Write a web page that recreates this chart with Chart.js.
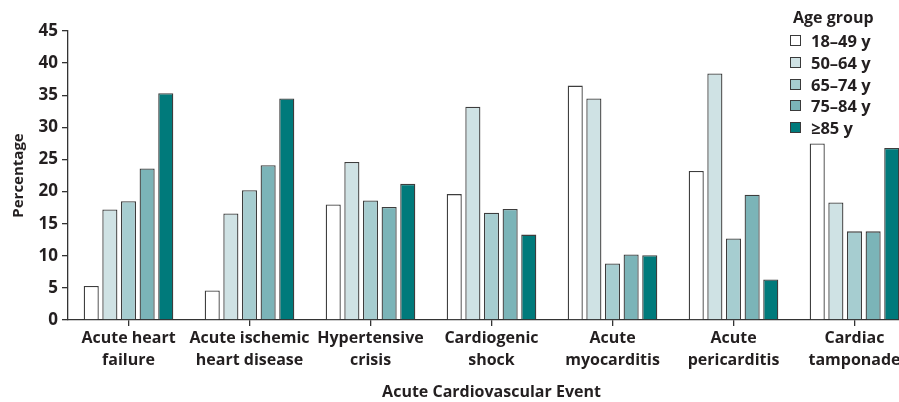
<!DOCTYPE html>
<html>
<head>
<meta charset="utf-8">
<script src="https://cdn.jsdelivr.net/npm/chart.js@4/dist/chart.umd.min.js"></script>
<style>
  html, body { margin: 0; padding: 0; background: #fff; overflow: hidden; }
  #wrap { position: relative; width: 899px; height: 402px; overflow: hidden; }
  #chart { position: absolute; left: 0; top: 0; }
  #legend { position: absolute; left: 790px; top: 5px; font-family: "Open Sans", sans-serif; font-weight: bold; color: #231f20; }
  #legend .title { font-size: 16px; margin-left: 3px; line-height: 25px; }
  #legend .item { font-size: 16.5px; line-height: 21.8px; white-space: nowrap; }
  #legend .box { display: inline-block; width: 9px; height: 9px; border: 1.3px solid #3a3a3a; margin-right: 10px; vertical-align: 1px; }
</style>
</head>
<body>
<div id="wrap">
  <canvas id="chart" width="915" height="402"></canvas>
  <div id="legend"></div>
</div>
<script>
const categories = [
    ['Acute heart', 'failure'],
    ['Acute ischemic', 'heart disease'],
    ['Hypertensive', 'crisis'],
    ['Cardiogenic', 'shock'],
    ['Acute', 'myocarditis'],
    ['Acute', 'pericarditis'],
    ['Cardiac', 'tamponade']
];
const ageGroups = ['18\u201349 y', '50\u201364 y', '65\u201374 y', '75\u201384 y', '\u226585 y'];
const colors = ['#ffffff', '#cfe2e4', '#a6cdd0', '#7bb4b8', '#007a7b'];

const age18to49 = [5.3, 4.6, 18.0, 19.6, 36.5, 23.2, 27.5];
const age50to64 = [17.2, 16.6, 24.6, 33.2, 34.5, 38.4, 18.3];
const age65to74 = [18.5, 20.2, 18.6, 16.7, 8.8, 12.7, 13.8];
const age75to84 = [23.6, 24.1, 17.6, 17.3, 10.2, 19.5, 13.8];
const age85plus = [35.3, 34.5, 21.2, 13.3, 10.1, 6.3, 26.8];
const yTicks = [0, 5, 10, 15, 20, 25, 30, 35, 40, 45];

const seriesValues = [age18to49, age50to64, age65to74, age75to84, age85plus];
const ink = '#231f20';
const fontFamily = '"Open Sans", sans-serif';

const datasets = ageGroups.map((label, i) => ({
    label: label,
    data: seriesValues[i],
    backgroundColor: colors[i],
    borderColor: '#3d3d3d',
    borderWidth: 1.3,
    categoryPercentage: 0.77,
    barPercentage: 0.81
}));

new Chart(document.getElementById('chart').getContext('2d'), {
    type: 'bar',
    data: { labels: categories, datasets: datasets },
    options: {
        responsive: false,
        animation: false,
        devicePixelRatio: 1,
        layout: { padding: { top: 31, right: 0, bottom: 0, left: 0 } },
        plugins: { legend: { display: false }, tooltip: { enabled: false } },
        scales: {
            x: {
                grid: { display: true, drawOnChartArea: false, offset: false, tickLength: 6, color: '#333', lineWidth: 1.3 },
                border: { display: true, color: '#333', width: 1.3 },
                ticks: { color: ink, font: { family: fontFamily, size: 16, weight: 'bold', lineHeight: 1.375 }, padding: 1, maxRotation: 0, autoSkip: false },
                title: { display: true, text: 'Acute Cardiovascular Event', color: ink, font: { family: fontFamily, size: 16, weight: 'bold' }, padding: { top: 4, bottom: 0 } },
                afterFit: (scale) => { scale.height = 82; }
            },
            y: {
                min: 0,
                max: 45,
                afterBuildTicks: (scale) => { scale.ticks = yTicks.map(v => ({ value: v })); },
                grid: { display: true, drawOnChartArea: false, tickLength: 6, color: '#333', lineWidth: 1.3 },
                border: { display: true, color: '#333', width: 1.3 },
                ticks: { color: ink, font: { family: fontFamily, size: 17, weight: 'bold' }, padding: 4 },
                title: { display: true, text: 'Percentage', color: ink, font: { family: fontFamily, size: 15, weight: 'bold' }, padding: { top: 10, bottom: 4 } },
                afterFit: (scale) => { scale.width = 68; }
            }
        }
    }
});

const legend = document.getElementById('legend');
legend.innerHTML = '<div class="title">Age group</div>' + ageGroups.map((g, i) =>
    `<div class="item"><span class="box" style="background:${colors[i]}"></span>${g}</div>`
).join('');
</script>
</body>
</html>
